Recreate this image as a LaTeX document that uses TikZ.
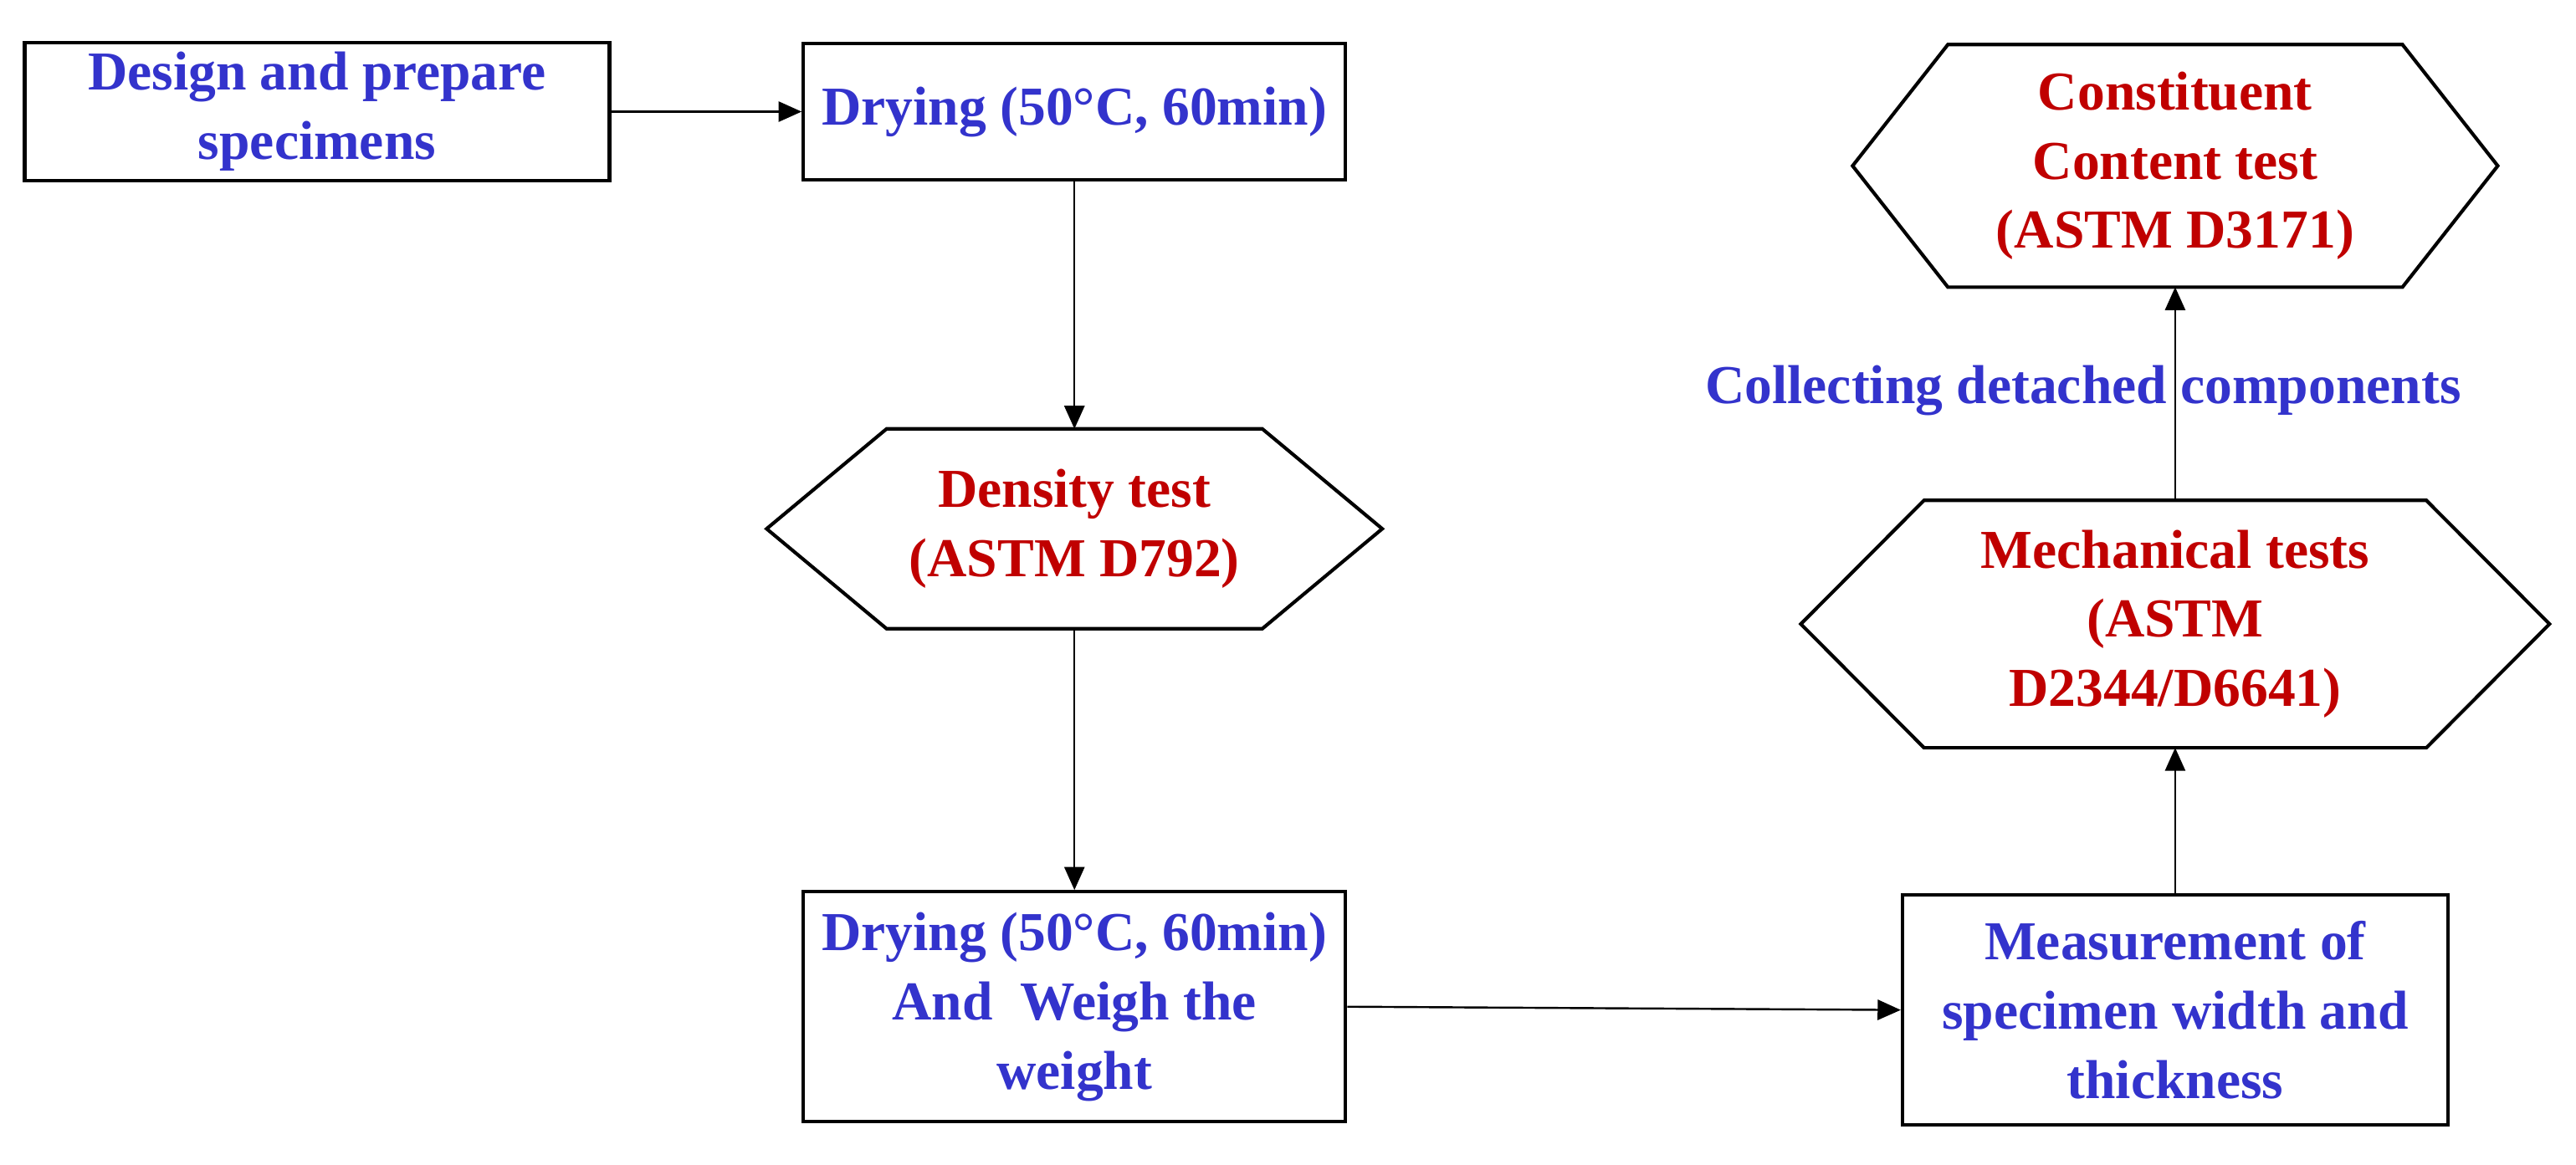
\documentclass[tikz,border=0pt]{standalone}
\usepackage{fontspec}
\setmainfont{Liberation Serif}
\usetikzlibrary{arrows.meta}
\definecolor{tblue}{RGB}{51,51,204}
\definecolor{tred}{RGB}{192,0,0}
\tikzset{
  pbox/.style={rectangle, draw=black, line width=1.2pt, align=center, text=tblue, font=\fontsize{19}{24}\selectfont\bfseries},
  phex/.style={rectangle, align=center, text=tred, font=\fontsize{19}{24}\selectfont\bfseries},
  arrow/.style={line width=0.7pt, -{Triangle[length=8pt,width=7pt]}}
}
\newcommand{\hexframe}[2]{%
  \draw[line width=1.2pt] (#1.west) -- ([xshift=#2]#1.north west) -- ([xshift=-#2]#1.north east)
    -- (#1.east) -- ([xshift=-#2]#1.south east) -- ([xshift=#2]#1.south west) -- cycle;}
\begin{document}
\begin{tikzpicture}
\useasboundingbox (0,0) rectangle (31.36,14.18);
\node (design) [pbox, minimum width=7.12cm, minimum height=1.66cm] at (3.86,12.82) {Design and prepare\\specimens};
\node (dry1) [pbox, minimum width=6.6cm, minimum height=1.66cm] at (13.08,12.82) {Drying (50\textdegree C, 60min)};
\node (dens) [phex, minimum width=7.48cm, minimum height=2.42cm] at (13.08,7.74) {Density test\\(ASTM D792)};
\node (dry2) [pbox, minimum width=6.6cm, minimum height=2.8cm] at (13.08,1.92) {Drying (50\textdegree C, 60min)\\And\ \ Weigh the\\weight};
\node (meas) [pbox, minimum width=6.64cm, minimum height=2.8cm] at (26.48,1.88) {Measurement of\\specimen width and\\thickness};
\node (mech) [phex, minimum width=9.1cm, minimum height=3.0cm] at (26.48,6.58) {Mechanical tests\\(ASTM\\D2344/D6641)};
\node (const) [phex, minimum width=7.84cm, minimum height=2.94cm] at (26.48,12.16) {Constituent\\Content test\\(ASTM D3171)};
\hexframe{dens}{1.46cm}
\hexframe{mech}{1.5cm}
\hexframe{const}{1.16cm}
\node (collect) [text=tblue, font=\fontsize{19}{24}\selectfont\bfseries] at (25.36,9.42) {Collecting detached components};
\draw [arrow] (design) -- (dry1);
\draw [arrow] (dry1) -- (dens);
\draw [arrow] (dens) -- (dry2);
\draw [arrow] (dry2.east) -- (meas.west);
\draw [arrow] (meas) -- (mech);
\draw [arrow] (mech) -- (const);
\end{tikzpicture}
\end{document}
